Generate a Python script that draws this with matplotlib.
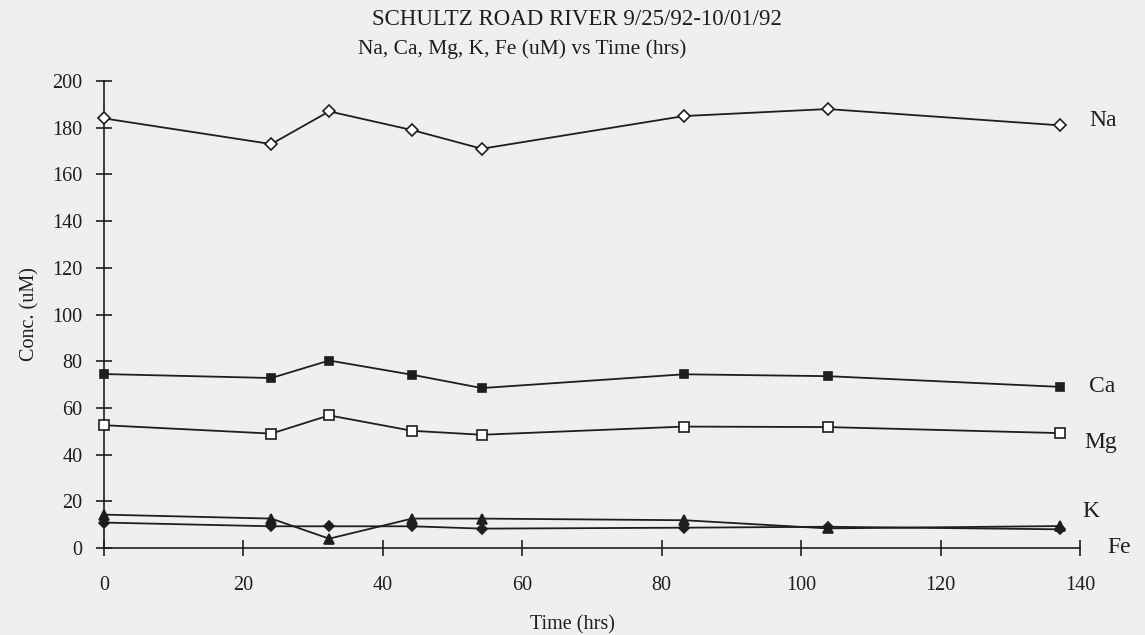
import matplotlib.pyplot as plt

plt.rcParams['font.family'] = ['Liberation Serif', 'DejaVu Serif']

# time of each sample (hrs)
time_hrs = [0, 24, 32.3, 44.2, 54.2, 83.2, 103.8, 137.2]

# concentrations (uM)
na = [184, 173, 187, 179, 171, 185, 188, 181]
ca = [74.5, 72.8, 80.3, 74.2, 68.5, 74.4, 73.6, 69.0]
mg = [52.6, 49.0, 56.8, 50.2, 48.5, 52.0, 51.8, 49.2]
k = [14.3, 12.6, 4.0, 12.6, 12.6, 11.9, 8.4, 9.4]
fe = [10.9, 9.3, 9.3, 9.3, 8.3, 8.7, 9.1, 8.0]

series_names = ["Na", "Ca", "Mg", "K", "Fe"]
# where the hand-placed labels sit at the right end
label_x = [141.3, 141.3, 140.7, 140.4, 144.0]
label_y = [183, 69, 45, 15.5, 0.3]

bg = '#eef0ee'
ink = '#1e1e1e'

fig = plt.figure(figsize=(11.45, 6.35), dpi=100, facecolor=bg)
ax = fig.add_axes([0.0908, 0.137, 0.8524, 0.7354], facecolor=bg)

styles = [
    dict(marker='D', mfc='white', ms=6.5),
    dict(marker='s', mfc=ink, ms=6),
    dict(marker='s', mfc='white', ms=7.5),
    dict(marker='^', mfc=ink, ms=6.5),
    dict(marker='D', mfc=ink, ms=5),
]
for vals, st in zip([na, ca, mg, k, fe], styles):
    ax.plot(time_hrs, vals, color=ink, lw=1.3, mec=ink, mew=1.2,
            clip_on=False, zorder=3, **st)

for name, lx, ly in zip(series_names, label_x, label_y):
    ax.text(lx, ly, name, fontsize=17, color=ink, va='center', ha='left')

ax.set_xlim(0, 140)
ax.set_ylim(0, 200)
ax.set_xticks(range(0, 141, 20))
ax.set_yticks(range(0, 201, 20))

for side in ['top', 'right']:
    ax.spines[side].set_visible(False)
for side in ['left', 'bottom']:
    ax.spines[side].set_color(ink)
    ax.spines[side].set_linewidth(1.2)

ax.tick_params(axis='both', direction='inout', length=11, width=1.2,
               colors=ink, labelsize=14.5)
ax.tick_params(axis='y', pad=10)
ax.tick_params(axis='x', pad=15)

ax.set_xlabel("Time (hrs)", fontsize=14.5, color=ink, labelpad=14, x=0.48)
ax.set_ylabel("Conc. (uM)", fontsize=14.5, color=ink, labelpad=9)

fig.text(0.504, 0.97, "SCHULTZ ROAD RIVER 9/25/92-10/01/92", ha='center',
         va='center', fontsize=16.5, color=ink)
fig.text(0.456, 0.923, "Na, Ca, Mg, K, Fe (uM) vs Time (hrs)", ha='center',
         va='center', fontsize=15.5, color=ink)

fig.savefig("out.png", dpi=100, facecolor=bg)
